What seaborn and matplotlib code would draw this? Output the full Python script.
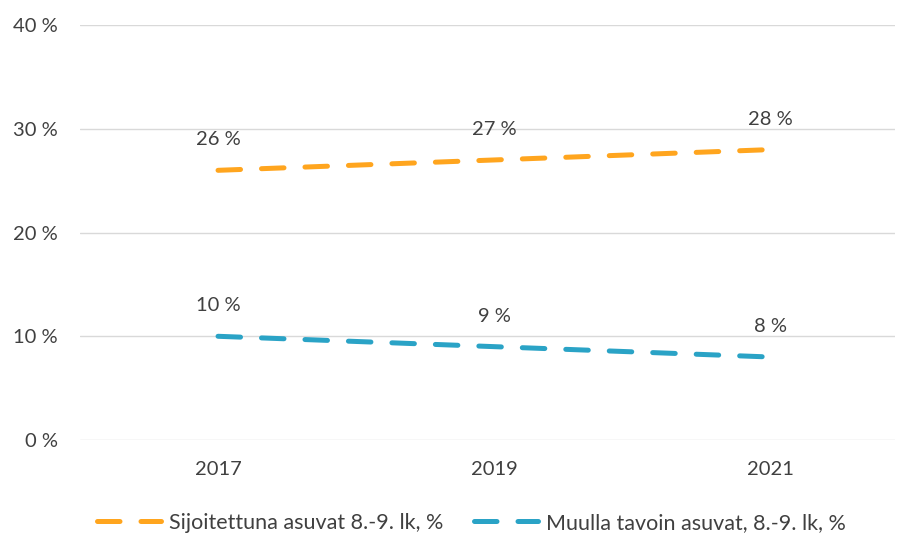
import pandas as pd
import numpy as np
import matplotlib.pyplot as plt
import seaborn as sns

years = ["2017", "2019", "2021"]
sijoitettuna = [26, 27, 28]
muulla = [10, 9, 8]
series_names = ["Sijoitettuna asuvat 8.-9. lk, %", "Muulla tavoin asuvat, 8.-9. lk, %"]
yticks = [0, 10, 20, 30, 40]

df = pd.DataFrame({
    "x": list(range(len(years))) * 2,
    "value": sijoitettuna + muulla,
    "series": [series_names[0]] * 3 + [series_names[1]] * 3,
})

sns.set_theme(style="white")
plt.rcParams['font.family'] = ['Lato', 'DejaVu Sans']
txt = "#404040"
colors = ["#FFA51E", "#2AA3C6"]

fig, ax = plt.subplots(figsize=(8.97, 5.34), dpi=100)
fig.subplots_adjust(left=0.089, right=0.998, top=0.953, bottom=0.176)

sns.lineplot(data=df, x="x", y="value", hue="series", palette=colors, ax=ax,
             linewidth=3.6, legend=True)
for line in ax.get_lines():
    line.set_dashes([4.5, 4.2])
    line.set_dash_capstyle("round")

# data labels
for vals in (sijoitettuna, muulla):
    for i, v in enumerate(vals):
        ax.annotate(f"{v} %", (i, v), xytext=(0, 22), textcoords="offset points",
                    ha="center", va="center", fontsize=14.5, color=txt)

ax.set_xlim(-0.5, 2.45)
ax.set_ylim(0, 40)
ax.set_xticks(range(len(years)))
ax.set_xticklabels(years)
ax.set_yticks(yticks)
ax.set_yticklabels([f"{t} %" for t in yticks])
ax.tick_params(axis="both", labelsize=14.5, labelcolor=txt, length=0)
ax.tick_params(axis="x", pad=15)
ax.tick_params(axis="y", pad=16)
ax.yaxis.grid(True, color="#D9D9D9", linewidth=1)
ax.set_xlabel("")
ax.set_ylabel("")
for s in ax.spines.values():
    s.set_visible(False)

handles, labels = ax.get_legend_handles_labels()
for h in handles:
    h.set_dashes([4.5, 4.2])
    h.set_dash_capstyle("round")
ax.legend(handles, labels, loc="center", bbox_to_anchor=(0.48, -0.2), ncol=2,
          frameon=False, fontsize=15.5, labelcolor=txt, handlelength=3.0,
          columnspacing=1.4, handletextpad=0.35)

plt.savefig("out.png", dpi=100)
